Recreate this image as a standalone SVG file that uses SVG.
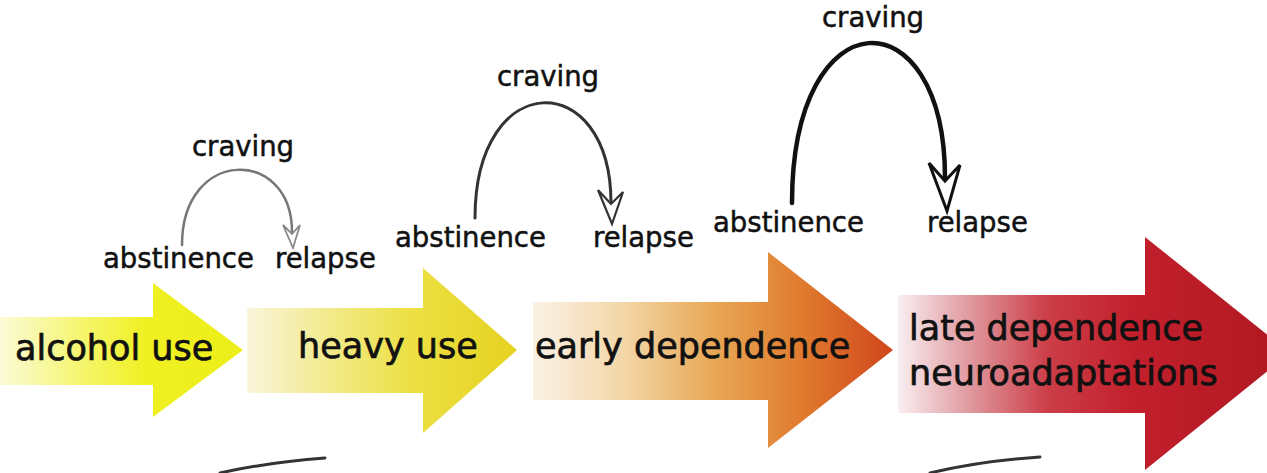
<svg xmlns="http://www.w3.org/2000/svg" width="1267" height="473" viewBox="0 0 1267 473">
<style>
.big{font-family:"DejaVu Sans",Verdana,sans-serif;font-size:35px;fill:#111;stroke:#111;stroke-width:0.7}
.small{font-family:"DejaVu Sans",Verdana,sans-serif;font-size:27.5px;fill:#111;stroke:#111;stroke-width:0.5}
.arc{fill:none;stroke-linecap:round}
.head{fill:#fff;stroke-linejoin:miter}
.stub{fill:none;stroke:#333;stroke-width:3;stroke-linecap:round}
</style>
<defs>
<linearGradient id="g1" gradientUnits="userSpaceOnUse" x1="0" y1="0" x2="243" y2="0">
<stop offset="0" stop-color="#fbfbd8"/><stop offset="0.35" stop-color="#f5f56a"/><stop offset="0.6" stop-color="#f0f022"/><stop offset="1" stop-color="#ecee18"/>
</linearGradient>
<linearGradient id="g2" gradientUnits="userSpaceOnUse" x1="247" y1="0" x2="517" y2="0">
<stop offset="0" stop-color="#faf5dc"/><stop offset="0.3" stop-color="#f2ea8c"/><stop offset="0.6" stop-color="#ece044"/><stop offset="1" stop-color="#e6d220"/>
</linearGradient>
<linearGradient id="g3" gradientUnits="userSpaceOnUse" x1="533" y1="0" x2="893" y2="0">
<stop offset="0" stop-color="#fbf2e6"/><stop offset="0.25" stop-color="#f3d6a8"/><stop offset="0.5" stop-color="#e8a856"/><stop offset="0.75" stop-color="#e07a2e"/><stop offset="1" stop-color="#d0461c"/>
</linearGradient>
<linearGradient id="g4" gradientUnits="userSpaceOnUse" x1="898" y1="0" x2="1290" y2="0">
<stop offset="0" stop-color="#f9eef0"/><stop offset="0.18" stop-color="#e09aa0"/><stop offset="0.38" stop-color="#cc3e48"/><stop offset="0.6" stop-color="#c2202c"/><stop offset="1" stop-color="#b01820"/>
</linearGradient>
</defs>
<rect width="1267" height="473" fill="#fff"/>

<g id="stage-alcohol-use">
<path d="M0,317 H153 V283 L243,350 L153,417 V385 H0 Z" fill="url(#g1)"/>
<text class="big" x="15" y="360">alcohol use</text>
</g>
<g id="stage-heavy-use">
<path d="M247,308 H423 V268 L517,350 L423,433 V393 H247 Z" fill="url(#g2)"/>
<text class="big" x="298" y="358">heavy use</text>
</g>
<g id="stage-early-dependence">
<path d="M533,302 H768 V252 L893,350 L768,448 V400 H533 Z" fill="url(#g3)"/>
<text class="big" x="535" y="358">early dependence</text>
</g>
<g id="stage-late-dependence">
<path d="M898,295 H1145 V237 L1290,353 L1145,470 V413 H898 Z" fill="url(#g4)"/>
<text class="big" x="909" y="340">late dependence</text>
<text class="big" x="909" y="385">neuroadaptations</text>
</g>

<g id="labels-1">
<text class="small" x="192" y="156">craving</text>
<text class="small" x="103" y="268">abstinence</text>
<text class="small" x="275" y="268">relapse</text>
</g>
<g id="labels-2">
<text class="small" x="497" y="86">craving</text>
<text class="small" x="395" y="247">abstinence</text>
<text class="small" x="593" y="247">relapse</text>
</g>
<g id="labels-3">
<text class="small" x="822" y="27">craving</text>
<text class="small" x="713" y="232">abstinence</text>
<text class="small" x="927" y="232">relapse</text>
</g>

<g id="connectors">
<path class="arc" d="M182,245 C182,147 292,147 292,232" stroke="#777" stroke-width="2.5"/>
<path class="head" d="M283,225 L292,234 L300,225 L293,248 Z" stroke="#888" stroke-width="1.8"/>
<path class="arc" d="M475,218 C475,67 611,67 611,203" stroke="#333" stroke-width="3"/>
<path class="head" d="M598,190 L611,204 L623,192 L612,224 Z" stroke="#333" stroke-width="2.2"/>
<path class="arc" d="M792,203 C792,-6 945,-6 945,178" stroke="#111" stroke-width="4.5"/>
<path class="head" d="M929,163 L945,181 L960,165 L947,211 Z" stroke="#111" stroke-width="3"/>
</g>

<g id="bottom-strokes">
<path class="stub" d="M220,473 Q270,462 325,458"/>
<path class="stub" d="M930,473 Q980,461 1040,457"/>
</g>
</svg>
